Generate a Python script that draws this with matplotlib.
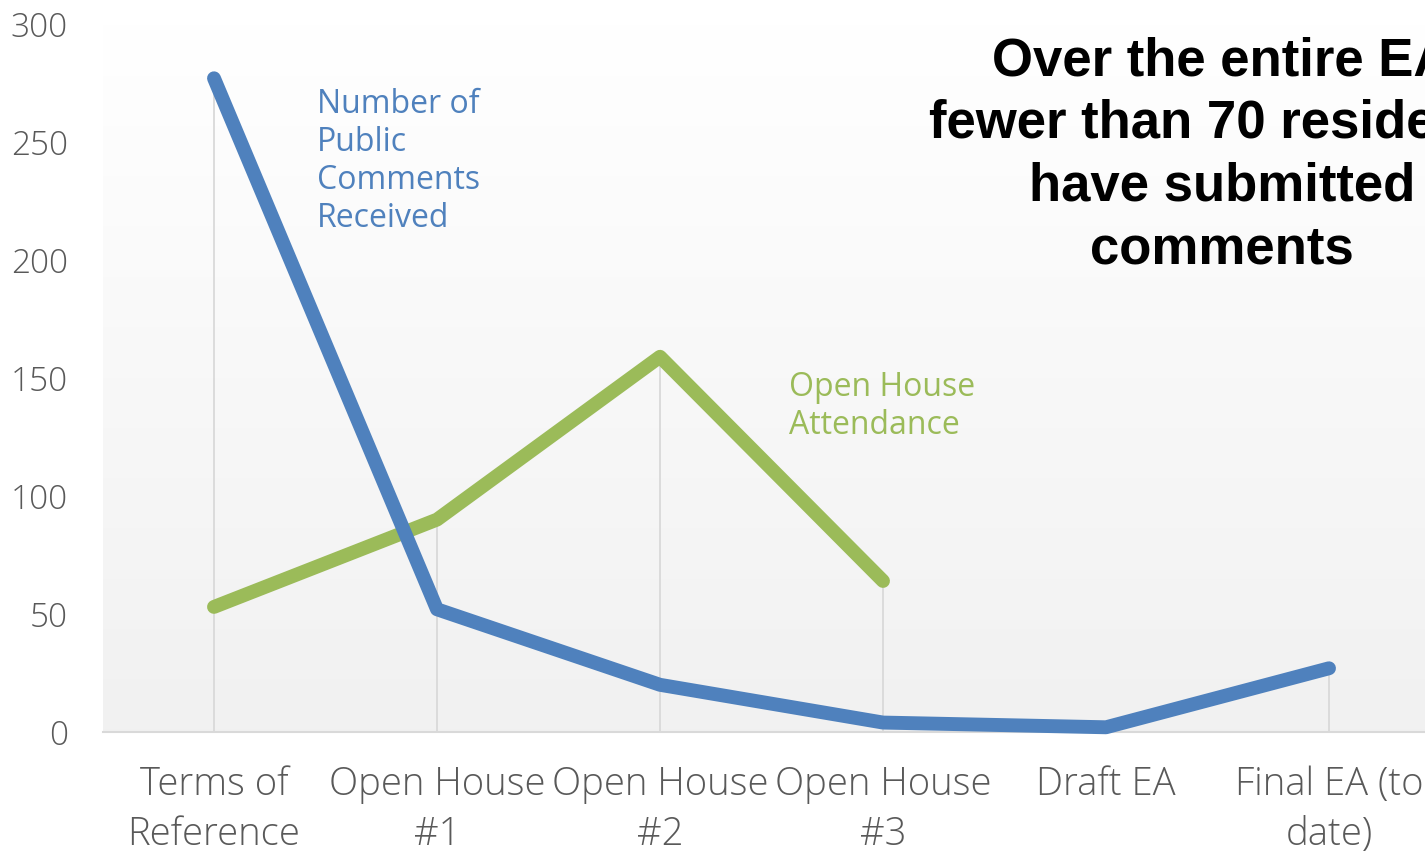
import numpy as np
import matplotlib
matplotlib.use("Agg")
import matplotlib.pyplot as plt

# categories and series values
stages = ["Terms of\nReference", "Open House\n#1", "Open House\n#2",
          "Open House\n#3", "Draft EA", "Final EA (to\ndate)"]
comments = [277, 52, 20, 4, 2, 27]
attendance = [53, 90, 159, 64]
y_ticks = [0, 50, 100, 150, 200, 250, 300]

blue = "#4F81BD"
green = "#9BBB59"
grid_gray = "#d9d9d9"
label_gray = "#595959"

fig = plt.figure(figsize=(14.25, 8.56), dpi=100)
ax = fig.add_axes([102.5 / 1425, 124 / 856, 1338 / 1425, 708 / 856])

x = np.arange(len(stages))
xa = np.arange(len(attendance))

# gradient plot area (white at top -> light gray at bottom)
grad = np.linspace(1.0, 0.945, 256).reshape(-1, 1)
ax.imshow(np.dstack([grad, grad, grad]), extent=(-0.5, 5.5, 0, 300),
          aspect="auto", zorder=0, origin="upper")

# drop lines
tops = [max(c, attendance[i]) if i < len(attendance) else c for i, c in enumerate(comments)]
ax.vlines(x, 0, tops, color=grid_gray, lw=1.3, zorder=1)

ax.plot(x, comments, color=blue, lw=10, solid_capstyle="round",
        solid_joinstyle="round", zorder=3, clip_on=False)
ax.plot(xa, attendance, color=green, lw=10, solid_capstyle="round",
        solid_joinstyle="round", zorder=2, clip_on=False)

ax.set_xlim(-0.5, 5.5)
ax.set_ylim(0, 300)
ax.set_yticks(y_ticks)
ax.set_xticks(x)
ax.set_xticklabels(stages, linespacing=1.4)

for s in ["top", "right", "left"]:
    ax.spines[s].set_visible(False)
ax.spines["bottom"].set_color(grid_gray)
ax.spines["bottom"].set_linewidth(1.5)
ax.spines["bottom"].set_zorder(1)

ax.tick_params(axis="y", length=0, pad=25, labelsize=24, labelcolor=label_gray)
ax.tick_params(axis="x", length=0, pad=24, labelsize=27.5, labelcolor=label_gray)
for lab in ax.get_xticklabels() + ax.get_yticklabels():
    lab.set_fontfamily("Open Sans")
    lab.set_fontweight("light")

ax.text(0.46, 273, "Number of\nPublic\nComments\nReceived", color=blue,
        fontsize=23, fontfamily="Open Sans", va="top", ha="left",
        linespacing=1.2)
ax.text(2.58, 153, "Open House\nAttendance", color=green,
        fontsize=23, fontfamily="Open Sans", va="top", ha="left",
        linespacing=1.2)

fig.text(1222 / 1425, 1 - 36 / 856,
         "Over the entire EA\nfewer than 70 residents\nhave submitted\ncomments",
         fontsize=38, fontweight="bold", fontfamily="Liberation Sans",
         ha="center", va="top", multialignment="center", linespacing=1.33)

fig.savefig("out.png", dpi=100)
